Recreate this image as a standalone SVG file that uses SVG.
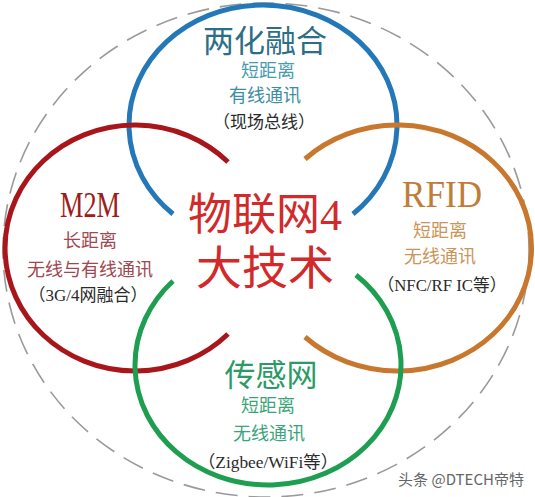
<svg xmlns="http://www.w3.org/2000/svg" width="535" height="497" viewBox="0 0 535 497">
<style>
.arc{fill:none;stroke-width:5;stroke-linecap:butt}
.t{font-family:"Liberation Serif","Noto Sans CJK SC",serif;text-anchor:middle}
.h{font-size:31px}
.s{font-size:18px}
.p{font-size:17px;fill:#2a2a2a}
</style>
<rect width="535" height="497" fill="#ffffff"/>
<ellipse id="outer" cx="266" cy="250" rx="263" ry="247" fill="none" stroke="#9a9a9a" stroke-width="1.6" stroke-dasharray="22 11"/>
<g id="node-lianghua">
<path class="arc" stroke="#2478b8" d="M173 214 A134 120 0 1 1 353 214"/>
<text class="t h" x="265" y="52" fill="#2b6e86">两化融合</text>
<text class="t s" x="268" y="77" fill="#4a9ab0">短距离</text>
<text class="t s" x="265" y="102" fill="#3c8ea4">有线通讯</text>
<text class="t p" x="264" y="128">（现场总线）</text>
</g>
<g id="node-m2m">
<path class="arc" stroke="#a8161c" d="M228 162 A130 123 0 1 0 228 334"/>
<text class="t" x="90" y="217" font-size="36" fill="#9e1b20" textLength="60" lengthAdjust="spacingAndGlyphs">M2M</text>
<text class="t s" x="90" y="247" fill="#a04850">长距离</text>
<text class="t s" x="90" y="276" fill="#a04850">无线与有线通讯</text>
<text class="t p" x="88" y="301">（3G/4网融合）</text>
</g>
<g id="node-rfid">
<path class="arc" stroke="#c8782e" d="M305 159 A134 123 0 1 1 305 337"/>
<text class="t" x="442" y="207" font-size="38" fill="#c07d3a" textLength="80" lengthAdjust="spacingAndGlyphs">RFID</text>
<text class="t s" x="440" y="237" fill="#c8965a">短距离</text>
<text class="t s" x="440" y="263" fill="#c8965a">无线通讯</text>
<text class="t p" x="442" y="291" textLength="129" lengthAdjust="spacingAndGlyphs">（NFC/RF IC等）</text>
</g>
<g id="node-sensor">
<path class="arc" stroke="#1e9e50" d="M173 281 A133 120 0 1 0 356 275"/>
<text class="t h" x="271" y="386" fill="#2b9a66">传感网</text>
<text class="t s" x="268" y="412" fill="#3aa57a">短距离</text>
<text class="t s" x="269" y="440" fill="#3aa57a">无线通讯</text>
<text class="t p" x="268" y="468" textLength="140" lengthAdjust="spacingAndGlyphs">（Zigbee/WiFi等）</text>
</g>
<g id="node-center">
<text class="t" x="265" y="230" font-size="44" fill="#d22a2a">物联网4</text>
<text class="t" x="265" y="284" font-size="46" fill="#d22a2a">大技术</text>
</g>
<g id="connectors"/>
<text x="461" y="485" font-family="'Noto Sans CJK SC','Liberation Sans',sans-serif" font-size="15" fill="#666666" text-anchor="middle">头条 @DTECH帝特</text>
</svg>
